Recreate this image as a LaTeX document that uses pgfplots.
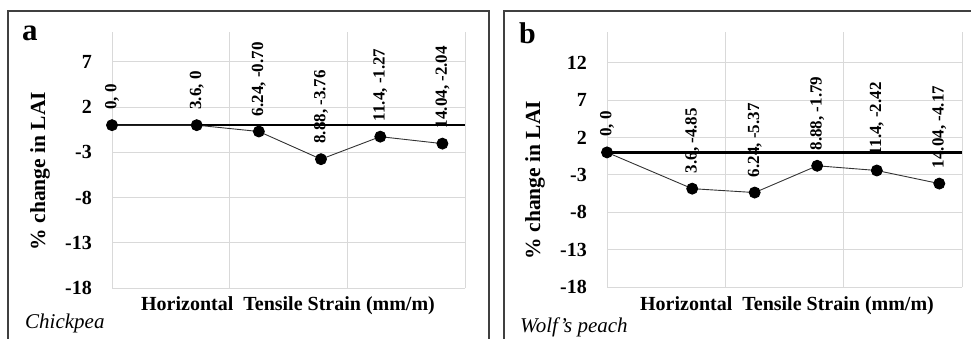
\documentclass[border=0pt]{standalone}
\usepackage{pgfplots}
\pgfplotsset{compat=1.18}
\usepackage{fontspec}
\setmainfont{Liberation Serif}
\definecolor{gridc}{HTML}{D9D9D9}
\definecolor{boxc}{HTML}{404040}
\pgfplotsset{
  panel/.style={
    scale only axis, anchor=south west, clip=false,
    axis line style={draw=none},
    major tick length=0pt,
    xmin=0, xmax=15, ymin=-18,
    xtick={0,5,10,15}, xticklabels={},
    ytick={-18,-13,-8,-3,2,7},
    yticklabels={-18,-13,-8,-3,2,7},
    xmajorgrids, ymajorgrids,
    grid style={color=gridc, line width=0.9bp},
    yticklabel style={font=\fontsize{20bp}{24bp}\selectfont\bfseries, anchor=east, inner sep=0pt, xshift=-20bp},
  },
  zeroline/.style={black, line width=2.3bp, no marks},
  dataline/.style={color=black!80, line width=0.9bp, mark=*, mark size=5.5bp,
    mark options={fill=black, draw=black},
    point meta=explicit symbolic, nodes near coords,
    every node near coord/.style={rotate=90, anchor=west, inner xsep=15bp, inner ysep=0pt,
      font=\fontsize{17bp}{20bp}\selectfont\bfseries, text=black}},
}
\begin{document}
\begin{tikzpicture}[x=1bp,y=1bp]
\path[use as bounding box] (0,0) rectangle (971,338);
\draw[boxc, line width=1.3bp] (8,-5) -- (8,327) -- (489,327) -- (489,-5);
\draw[boxc, line width=1.3bp] (504,-5) -- (504,327) -- (985,327);

% panel a
\begin{axis}[panel, at={(112bp,50bp)}, width=353bp, height=256bp, ymax=10.3]
\addplot[zeroline] coordinates {(0,0) (15,0)};
\addplot[dataline] coordinates {
(0,0) [0, 0]
(3.6,0) [3.6, 0]
(6.24,-0.70) [6.24, -0.70]
(8.88,-3.76) [8.88, -3.76]
(11.4,-1.27) [11.4, -1.27]
(14.04,-2.04) [14.04, -2.04]
};
\end{axis}

% panel b
\begin{axis}[panel, at={(607bp,51bp)}, width=355bp, height=255bp, ymax=16.1,
  ytick={-18,-13,-8,-3,2,7,12}, yticklabels={-18,-13,-8,-3,2,7,12}]
\addplot[zeroline] coordinates {(0,0) (15,0)};
\addplot[dataline] coordinates {
(0,0) [0, 0]
(3.6,-4.85) [3.6, -4.85]
(6.24,-5.37) [6.24, -5.37]
(8.88,-1.79) [8.88, -1.79]
(11.4,-2.42) [11.4, -2.42]
(14.04,-4.17) [14.04, -4.17]
};
\end{axis}

% texts
\node[anchor=base west, inner sep=0pt, font=\fontsize{31bp}{36bp}\selectfont\bfseries] at (22,298) {a};
\node[anchor=base west, inner sep=0pt, font=\fontsize{30bp}{36bp}\selectfont\bfseries] at (519,295) {b};
\node[anchor=base, inner sep=0pt, font=\fontsize{20bp}{24bp}\selectfont\bfseries] at (288,28) {Horizontal\ \ Tensile Strain (mm/m)};
\node[anchor=base, inner sep=0pt, font=\fontsize{20bp}{24bp}\selectfont\bfseries] at (787,28) {Horizontal\ \ Tensile Strain (mm/m)};
\node[rotate=90, inner sep=0pt, font=\fontsize{21.5bp}{24bp}\selectfont\bfseries] at (40,167) {\% change in LAI};
\node[rotate=90, inner sep=0pt, font=\fontsize{21.5bp}{24bp}\selectfont\bfseries] at (535,158) {\% change in LAI};
\node[anchor=base west, inner sep=0pt, font=\fontsize{21bp}{24bp}\selectfont\itshape] at (25,10) {Chickpea};
\node[anchor=base west, inner sep=0pt, font=\fontsize{21bp}{24bp}\selectfont\itshape] at (520,6) {Wolf’s peach};
\end{tikzpicture}
\end{document}
